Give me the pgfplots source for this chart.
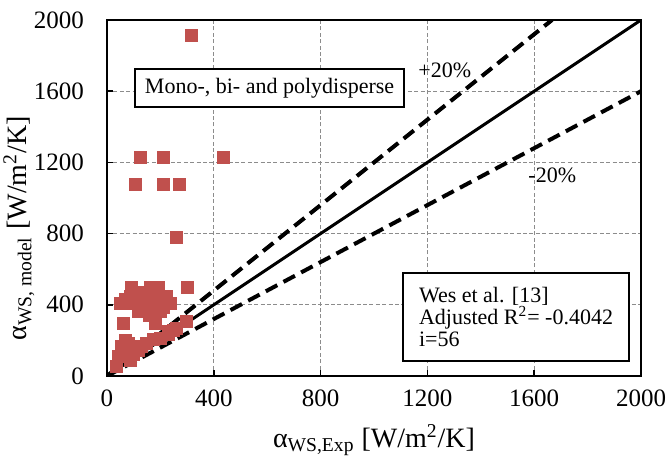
\documentclass[border=0pt]{standalone}
\usepackage{fontspec}
\setmainfont{Liberation Serif}
\usepackage{pgfplots}
\pgfplotsset{compat=1.18}
\definecolor{ptred}{HTML}{C0504D}
\definecolor{gridgray}{HTML}{8C8C8C}
\begin{document}
\begin{tikzpicture}
\useasboundingbox (-53.5pt,-39.5pt) rectangle (280.5pt,188pt);
\begin{axis}[
  at={(0,0)}, anchor=south west,
  scale only axis, width=267pt, height=178pt,
  xmin=0, xmax=2000, ymin=0, ymax=2000,
  xtick={0,400,...,2000}, ytick={0,400,...,2000},
  xtick pos=bottom, ytick pos=left,
  grid=major,
  major grid style={gridgray, dash pattern=on 2pt off 1.2pt, line width=0.6pt},
  axis line style={line width=1pt},
  tick style={black, line width=0.8pt},
  major tick length=3pt,
  tick align=inside,
  /pgf/number format/assume math mode=true,
  /pgf/number format/set thousands separator={},
  tick label style={font=\fontsize{12.5}{14}\selectfont},
  xticklabel style={yshift=-3.5pt},
  yticklabel style={xshift=-8pt},
  xlabel={α\textsubscript{WS,Exp} [W/m\textsuperscript{2}/K]},
  ylabel={α\textsubscript{WS, model} [W/m\textsuperscript{2}/K]},
  label style={font=\fontsize{14}{16}\selectfont},
  xlabel style={at={(axis description cs:0.5,-0.18)}, anchor=center},
  ylabel style={at={(axis description cs:-0.165,0.415)}, anchor=center},
]
\addplot[only marks, mark=square*, mark size=3pt, mark options={fill=ptred, draw=ptred}] table {
x y
317 1915
124 1226
213 1226
436 1226
105 1076
211 1076
270 1076
261 781
92 497
161 497
192 497
300 497
86 447
130 447
167 447
192 447
224 447
49 410
86 410
117 410
149 410
180 410
211 410
236 410
117 362
167 362
199 362
61 297
180 297
261 269
298 306
248 259
230 231
199 212
174 203
149 184
80 184
55 165
117 146
67 128
42 109
86 90
36 52
70 430
100 470
140 470
120 385
150 385
190 430
210 385
160 340
60 150
100 120
130 165
230 250
70 200
};
\addplot[black, line width=1.5pt] coordinates {(0,0) (2000,2000)};
\addplot[black, line width=2pt, dash pattern=on 6.5pt off 3.5pt] coordinates {(0,0) (1666.7,2000)};
\addplot[black, line width=2pt, dash pattern=on 6.5pt off 3.5pt] coordinates {(0,0) (2000,1600)};
\node[draw, fill=white, line width=0.8pt, font=\fontsize{11}{13}\selectfont, minimum width=134.5pt, minimum height=19pt, inner sep=0pt] at (axis cs:609,1618) {Mono-, bi- and polydisperse};
\node[anchor=west, inner sep=0pt, font=\fontsize{11}{13}\selectfont] at (axis cs:1165,1719) {+20\%};
\node[anchor=west, inner sep=0pt, font=\fontsize{11}{13}\selectfont] at (axis cs:1577,1129) {-20\%};
\node[draw, fill=white, line width=0.8pt, font=\fontsize{11}{11}\selectfont, align=left, inner xsep=8pt, minimum height=44pt] at (axis cs:1532,331) {Wes et al. [13]\\Adjusted R\textsuperscript{2}= -0.4042\\i=56};
\end{axis}
\end{tikzpicture}
\end{document}
